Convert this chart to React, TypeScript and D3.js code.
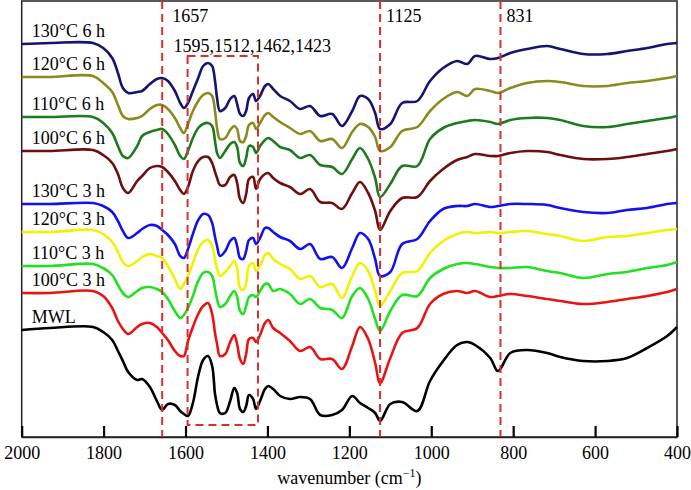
import React, { useEffect, useRef } from 'react';
import * as d3 from 'd3';

// shared wavenumber grid (cm-1), high -> low
const wavenumbers = [2000, 1931, 1826, 1801, 1779, 1765, 1753, 1740, 1718, 1706, 1687, 1670, 1657, 1643, 1626, 1613, 1604, 1594, 1582, 1569, 1557, 1545, 1535, 1528, 1523, 1516, 1503, 1491, 1481, 1474, 1467, 1459, 1452, 1445, 1435, 1428, 1418, 1406, 1398, 1386, 1369, 1345, 1320, 1296, 1271, 1242, 1218, 1193, 1174, 1154, 1137, 1125, 1100, 1071, 1034, 1003, 971, 937, 912, 893, 856, 837, 807, 766, 717, 685, 629, 570, 522, 473, 424, 400];

// stacked spectra, offset absorbance (a.u., larger = lower on the plot)
const s130h6 = [43, 42, 42, 47, 57, 72, 87, 92, 91, 90, 83, 78, 77, 80, 90, 102, 107, 102, 90, 77, 65, 62, 65, 80, 97, 110, 107, 98, 95, 103, 113, 115, 110, 97, 93, 100, 95, 85, 83, 88, 95, 100, 108, 105, 115, 113, 125, 110, 95, 98, 112, 128, 123, 102, 100, 80, 67, 60, 63, 55, 58, 57, 52, 48, 45, 48, 53, 53, 50, 47, 43, 42];
const s120h6 = [76, 76, 75, 82, 91, 104, 115, 118, 117, 115, 108, 104, 104, 108, 117, 127, 132, 123, 110, 100, 94, 92, 95, 110, 127, 138, 137, 129, 125, 128, 140, 141, 135, 124, 122, 128, 122, 114, 112, 116, 121, 127, 133, 130, 140, 138, 147, 131, 123, 126, 136, 150, 146, 130, 126, 110, 98, 91, 95, 88, 90, 92, 87, 82, 80, 81, 85, 85, 82, 80, 77, 75];
const s110h6 = [116, 116, 116, 122, 132, 145, 155, 157, 145, 135, 131, 129, 128, 133, 144, 155, 158, 150, 137, 127, 123, 122, 125, 140, 152, 157, 150, 143, 141, 146, 162, 165, 157, 145, 146, 152, 145, 139, 137, 140, 146, 149, 157, 154, 164, 166, 173, 158, 147, 158, 177, 196, 183, 165, 165, 138, 127, 122, 120, 119, 121, 123, 119, 117, 117, 119, 125, 126, 123, 120, 117, 115];
const s100h6 = [150, 150, 149, 154, 162, 173, 187, 192, 180, 175, 167, 165, 166, 171, 180, 189, 193, 186, 170, 160, 156, 156, 162, 171, 177, 184, 184, 176, 174, 182, 198, 202, 193, 178, 176, 188, 178, 173, 172, 177, 182, 186, 193, 188, 201, 202, 208, 192, 181, 192, 210, 229, 210, 197, 196, 180, 168, 159, 156, 153, 155, 155, 152, 150, 151, 154, 158, 158, 156, 153, 150, 148];
const s130h3 = [203, 203, 202, 205, 211, 220, 230, 237, 232, 228, 224, 225, 229, 234, 243, 255, 257, 248, 233, 219, 213, 214, 222, 236, 245, 255, 250, 240, 237, 245, 257, 258, 250, 239, 237, 243, 237, 227, 227, 231, 236, 240, 248, 243, 258, 256, 267, 247, 232, 238, 258, 275, 271, 243, 238, 220, 208, 205, 205, 203, 206, 205, 203, 203, 204, 207, 211, 212, 209, 207, 203, 202];
const s120h3 = [231, 231, 229, 233, 241, 251, 261, 265, 260, 256, 253, 255, 257, 265, 278, 288, 283, 275, 262, 248, 241, 239, 245, 258, 268, 275, 271, 265, 260, 267, 287, 289, 282, 265, 262, 270, 265, 254, 252, 258, 263, 268, 278, 275, 286, 283, 297, 275, 262, 270, 290, 305, 290, 272, 270, 252, 240, 233, 231, 232, 231, 232, 231, 230, 233, 235, 240, 236, 235, 232, 229, 228];
const s110h3 = [265, 265, 263, 267, 274, 284, 292, 296, 290, 287, 286, 288, 291, 298, 310, 317, 314, 307, 295, 280, 272, 271, 275, 288, 298, 306, 303, 295, 290, 296, 310, 313, 305, 296, 294, 296, 290, 283, 283, 290, 288, 293, 303, 298, 307, 309, 317, 295, 287, 298, 318, 330, 310, 294, 295, 277, 268, 263, 262, 263, 266, 267, 267, 266, 270, 272, 277, 273, 271, 267, 264, 261];
const s100h3 = [292, 292, 290, 295, 307, 320, 328, 333, 326, 323, 322, 326, 332, 339, 350, 355, 355, 340, 326, 313, 305, 302, 313, 332, 343, 355, 353, 341, 334, 343, 358, 363, 353, 338, 337, 341, 334, 322, 319, 327, 332, 340, 350, 346, 358, 358, 368, 345, 326, 338, 362, 382, 357, 332, 327, 303, 293, 290, 292, 290, 296, 295, 293, 295, 298, 300, 303, 301, 298, 295, 291, 288];
const mwl = [329, 327, 326, 331, 339, 350, 360, 371, 379, 378, 386, 400, 409, 403, 404, 410, 413, 415, 402, 375, 359, 355, 365, 393, 404, 412, 412, 400, 387, 392, 408, 411, 405, 394, 398, 408, 400, 388, 385, 388, 395, 398, 396, 398, 414, 414, 409, 395, 402, 407, 412, 420, 403, 401, 410, 380, 360, 344, 341, 344, 357, 370, 352, 349, 352, 356, 360, 360, 357, 347, 335, 326];

const seriesNames = ['130°C 6 h', '120°C 6 h', '110°C 6 h', '100°C 6 h', '130°C 3 h', '120°C 3 h', '110°C 3 h', '100°C 3 h', 'MWL'];
const seriesValues = [s130h6, s120h6, s110h6, s100h6, s130h3, s120h3, s110h3, s100h3, mwl];
const seriesColors = ['#15156f', '#8a8a1e', '#1e7a1e', '#6e0f0f', '#1212ee', '#f2f200', '#22e022', '#e81414', '#000000'];

const bandLines = [1657, 1125, 831];
const bandLabels = ['1657', '1125', '831'];
const boxBand = [1595, 1423];
const boxLabel = '1595,1512,1462,1423';
const xTicks = [2000, 1800, 1600, 1400, 1200, 1000, 800, 600, 400];

export default function App() {
  const ref = useRef<SVGSVGElement>(null);

  useEffect(() => {
    const svg = d3.select(ref.current);
    svg.selectAll('*').remove();

    const left = 21.7, right = 677, top = 1, bottom = 437;
    const font = 'Liberation Serif, Times New Roman, serif';
    const red = '#d8302c';

    const x = d3.scaleLinear().domain([2000, 400]).range([left, right]);
    const y = d3.scaleLinear().domain([0, 436]).range([top, bottom]);

    // frame
    svg.append('rect')
      .attr('x', left).attr('y', top)
      .attr('width', right - left).attr('height', bottom - top)
      .attr('fill', 'none').attr('stroke', '#222').attr('stroke-width', 1.5);

    const line = d3.line<number>()
      .x((d, i) => x(wavenumbers[i]))
      .y(d => y(d))
      .curve(d3.curveCatmullRom.alpha(0.5));

    seriesValues.forEach((vals, k) => {
      svg.append('path')
        .attr('d', line(vals))
        .attr('fill', 'none')
        .attr('stroke', seriesColors[k])
        .attr('stroke-width', 2.6)
        .attr('stroke-linejoin', 'round');
      svg.append('text')
        .attr('x', left + 10)
        .attr('y', y(vals[0]) - 7)
        .attr('font-family', font).attr('font-size', 18)
        .text(seriesNames[k]);
    });

    // dashed band markers
    bandLines.forEach((b, i) => {
      svg.append('line')
        .attr('x1', x(b)).attr('x2', x(b))
        .attr('y1', top).attr('y2', bottom)
        .attr('stroke', red).attr('stroke-width', 2)
        .attr('stroke-dasharray', '8,5');
      svg.append('text')
        .attr('x', x(b) + (i === 0 ? 10 : 6))
        .attr('y', 22)
        .attr('font-family', font).attr('font-size', 18)
        .text(bandLabels[i]);
    });

    svg.append('rect')
      .attr('x', x(boxBand[0])).attr('y', y(55))
      .attr('width', x(boxBand[1]) - x(boxBand[0]))
      .attr('height', y(424) - y(55))
      .attr('fill', 'none')
      .attr('stroke', red).attr('stroke-width', 2)
      .attr('stroke-dasharray', '8,5');
    svg.append('text')
      .attr('x', x(boxBand[0]) - 14)
      .attr('y', 52)
      .attr('font-family', font).attr('font-size', 18)
      .text(boxLabel);

    // x axis
    const axis = d3.axisBottom(x).tickValues(xTicks)
      .tickSizeInner(-11).tickSizeOuter(0).tickPadding(9)
      .tickFormat(d3.format('d'));
    const g = svg.append('g')
      .attr('transform', 'translate(0,' + bottom + ')')
      .call(axis);
    g.select('.domain').attr('stroke', '#222').attr('stroke-width', 1.5);
    g.selectAll('.tick line').attr('stroke', '#000').attr('stroke-width', 2.2);
    g.selectAll('.tick text')
      .attr('font-family', font).attr('font-size', 18).attr('fill', '#000');

    const lab = svg.append('text')
      .attr('x', (left + right) / 2)
      .attr('y', 484)
      .attr('text-anchor', 'middle')
      .attr('font-family', font).attr('font-size', 18);
    lab.append('tspan').text('wavenumber (cm');
    lab.append('tspan').attr('font-size', 12).attr('dy', -7).text('−1');
    lab.append('tspan').attr('dy', 7).text(')');
  }, []);

  return (
    <svg ref={ref} width={691} height={490}
      style={{ position: 'absolute', left: 0, top: 0, background: '#fff' }} />
  );
}
